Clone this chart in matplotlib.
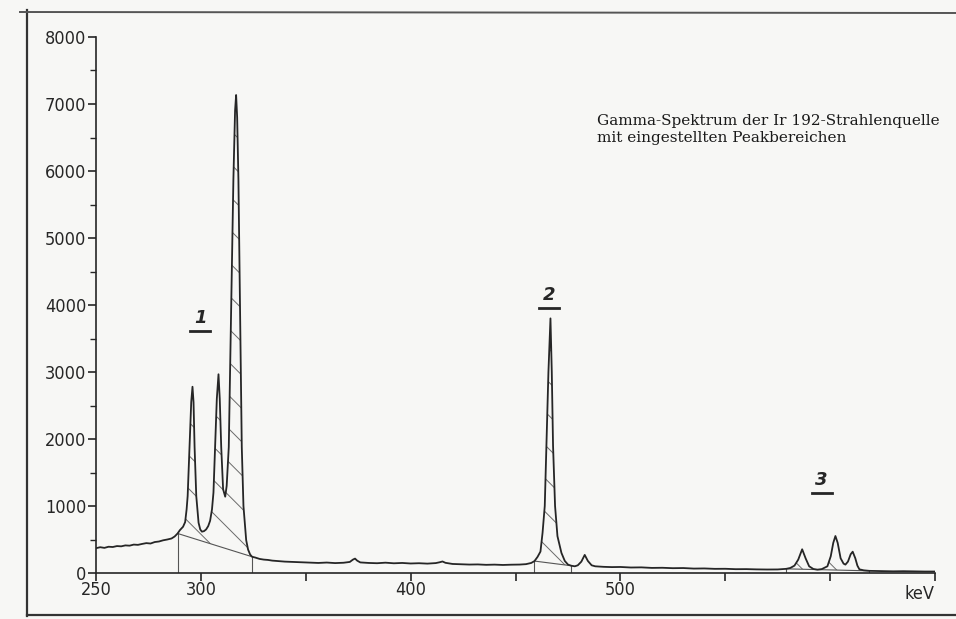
import numpy as np
import matplotlib
matplotlib.use("Agg")
import matplotlib.pyplot as plt
from matplotlib.lines import Line2D
from matplotlib import font_manager as fm

# spectrum (keV, counts)
energy = [250, 252, 254, 256, 258, 260, 262, 264, 266, 268, 270, 272, 274, 276, 278,
          280, 282, 284, 286, 287.5, 288.9, 290, 291.5, 292.5, 293.2, 293.7, 294.6,
          295.4, 296.0, 296.5, 297.0, 297.8, 298.9, 299.7, 300.5, 301.5, 302.5, 303.5,
          304.4, 305.3, 306.0, 306.8, 307.6, 308.4, 309.0, 309.7, 310.6, 311.6, 312.3,
          313.3, 314.4, 315.5, 316.3, 316.8, 317.3, 317.9, 318.7, 319.5, 320.3, 321.6,
          322.5, 323.5, 324.4, 326, 328, 330, 332, 334, 337, 340, 344, 348, 352, 356,
          360, 364, 368, 371, 372.5, 373.5, 374.5, 376, 380, 384, 388, 392, 396, 400,
          404, 408, 412, 413.8, 415.2, 416.6, 420, 424, 428, 432, 436, 440, 444, 448,
          452, 455, 457.5, 459.05, 460.5, 461.9, 462.9, 463.95, 464.76, 465.7, 466.67,
          467.3, 467.9, 468.86, 470, 471.9, 473.5, 475.05, 476.67, 478.3, 479.7, 481.4,
          483.0, 484.5, 486.3, 488, 492, 496, 500, 505, 510, 515, 520, 525, 530, 535,
          540, 545, 550, 555, 560, 565, 570, 575, 579.05, 581, 583, 584.8, 586.67,
          588.3, 590, 592, 593.95, 596, 598.71, 600.3, 601.5, 602.52, 603.6, 605,
          606.4, 607.29, 608.5, 609.8, 610.76, 612, 613.0, 613.95, 616, 618.71, 622,
          626, 630, 635, 640, 645, 650]
counts = [370, 385, 375, 392, 388, 402, 398, 412, 408, 424, 420, 434, 446, 440, 462,
          470, 488, 500, 515, 545, 590, 640, 690, 760, 950, 1150, 1880,
          2550, 2780, 2550, 1880, 1150, 750, 650, 617, 625, 650, 700,
          780, 950, 1200, 1880, 2600, 2966, 2600, 1880, 1250, 1139, 1300,
          1880, 3880, 5870, 6900, 7134, 6800, 5870, 3880, 1880, 1000, 490,
          350, 275, 243, 230, 210, 200, 195, 185, 178, 170, 165, 160, 155, 150,
          156, 148, 153, 165, 200, 215, 185, 158, 150, 146, 154, 145, 150, 142,
          146, 140, 148, 160, 172, 152, 135, 130, 126, 128, 122, 125, 120, 124,
          126, 132, 150, 178, 240, 320, 600, 1000, 1900, 3000, 3800,
          3000, 1900, 1000, 550, 300, 180, 125, 108, 100, 115, 170,
          270, 180, 115, 100, 92, 88, 90, 82, 84, 76, 78, 72, 74, 66,
          68, 62, 63, 57, 58, 54, 52, 53, 62, 75, 110, 200, 354,
          220, 100, 60, 50, 58, 100, 250, 450, 552, 450, 220,
          140, 125, 170, 280, 318, 220, 110, 55, 40, 32, 30,
          28, 25, 27, 24, 22, 22]

# peak regions (keV)
roi_lo = [288.9, 459.05, 579.05]
roi_hi = [324.4, 476.67, 618.71]
roi_names = ['1', '2', '3']
name_x = [299.7, 465.9, 596.0]
name_y = [3806, 4149, 1388]

xticks = [250, 300, 350, 400, 450, 500, 550, 600, 650]
xlabels = ['250', '300', '', '400', '', '500', '', '', '']
yticks = [0, 1000, 2000, 3000, 4000, 5000, 6000, 7000, 8000]
yminor = [500, 1500, 2500, 3500, 4500, 5500, 6500, 7500]

title = 'Gamma-Spektrum der Ir 192-Strahlenquelle\nmit eingestellten Peakbereichen'

ink = '#262626'
plt.rcParams['hatch.linewidth'] = 0.7

# narrow digits like the plotter font, if a condensed face is there
cond = fm.FontProperties(family='DejaVu Sans', stretch='condensed', size=13)
if 'Condensed' in fm.findfont(cond):
    tick_font = cond
else:
    tick_font = fm.FontProperties(family='Liberation Sans', size=12)

fig = plt.figure(figsize=(9.56, 6.19), dpi=100, facecolor='#f7f7f5')
ax = fig.add_axes([96 / 956, 1 - 573 / 619, (935 - 96) / 956, (573 - 37) / 619])
ax.set_facecolor('none')
ax.set_xlim(250, 650)
ax.set_ylim(0, 8000)
ax.spines[['top', 'right']].set_visible(False)
ax.spines[['left', 'bottom']].set_color(ink)
ax.spines[['left', 'bottom']].set_linewidth(1.2)

ax.set_xticks(xticks)
ax.set_xticklabels(xlabels, fontproperties=tick_font)
ax.set_yticks(yticks)
ax.set_yticklabels([str(v) for v in yticks], fontproperties=tick_font)
ax.set_yticks(yminor, minor=True)
ax.tick_params(axis='x', length=6, width=1.2, color=ink, pad=0, labelcolor=ink)
ax.tick_params(axis='y', length=6, width=1.2, color=ink, pad=1, labelcolor=ink)
ax.tick_params(axis='y', which='minor', length=4, width=1.0, color=ink)
ax.get_yticklabels()[0].set_y(150)

E = np.array(energy, dtype=float)
C = np.array(counts, dtype=float)
ax.plot(E, C, color=ink, lw=1.3, zorder=3)

for lo, hi in zip(roi_lo, roi_hi):
    c_lo = np.interp(lo, E, C)
    c_hi = np.interp(hi, E, C)
    m = (E > lo) & (E < hi)
    e_sub = np.concatenate([[lo], E[m], [hi]])
    c_sub = np.concatenate([[c_lo], C[m], [c_hi]])
    base = np.interp(e_sub, [lo, hi], [c_lo, c_hi])
    ax.fill_between(e_sub, base, c_sub, where=c_sub >= base, interpolate=True,
                    facecolor='none', edgecolor='#6a6a6a', hatch='\\', linewidth=0)
    ax.plot([lo, hi], [c_lo, c_hi], color='#555555', lw=0.8)
    ax.plot([lo, lo], [0, c_lo], color='#555555', lw=0.8)
    ax.plot([hi, hi], [0, c_hi], color='#555555', lw=0.8)

for name, x, y in zip(roi_names, name_x, name_y):
    ax.text(x, y, name, ha='center', va='center', fontsize=13,
            fontweight='bold', fontstyle='italic', color=ink)
    ax.plot([x - 4.8, x + 4.8], [y - 190, y - 190], color=ink, lw=2.0)

fig.text(597 / 956, 1 - 114 / 619, title, ha='left', va='top',
         family='DejaVu Serif', fontsize=11, linespacing=1.3, color='#1a1a1a')
fig.text(920 / 956, 1 - 594 / 619, 'keV', ha='center', va='center',
         fontproperties=tick_font, color=ink)

# page frame of the scanned sheet
fig.add_artist(Line2D([27 / 956, 27 / 956], [1 - 10 / 619, 1 - 616 / 619],
                      transform=fig.transFigure, color='#333333', lw=1.6))
fig.add_artist(Line2D([20 / 956, 1.0], [1 - 12 / 619, 1 - 13 / 619],
                      transform=fig.transFigure, color='#555555', lw=1.4))
fig.add_artist(Line2D([27 / 956, 1.0], [1 - 615 / 619, 1 - 615 / 619],
                      transform=fig.transFigure, color='#333333', lw=1.6))

fig.savefig('out.png', dpi=100, facecolor=fig.get_facecolor())
